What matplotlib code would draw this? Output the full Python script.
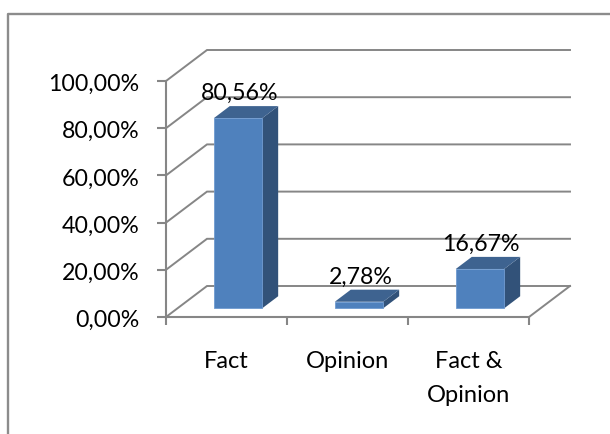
import matplotlib
matplotlib.use('Agg')
import matplotlib.pyplot as plt
from matplotlib.lines import Line2D
from matplotlib.transforms import ScaledTranslation

plt.rcParams['font.family'] = ['Lato', 'DejaVu Sans']

# data
categories = ['Fact', 'Opinion', 'Fact &\nOpinion']
values = [80.56, 2.78, 16.67]
value_labels = ['80,56%', '2,78%', '16,67%']
y_ticks = [0, 20, 40, 60, 80, 100]
y_tick_labels = ['0,00%', '20,00%', '40,00%', '60,00%', '80,00%', '100,00%']

W, H = 610, 434
LINE = '#868686'
FRONT = '#4f81bd'
TOP = '#3e6390'
SIDE = '#325279'

fig = plt.figure(figsize=(W / 100, H / 100), dpi=100)
fig.patch.set_facecolor('white')

# outer chart frame, cut off on the right and bottom
fig.add_artist(Line2D([8 / W, 8 / W, 1], [0, 1 - 13.5 / H, 1 - 13.5 / H],
                      transform=fig.transFigure, color='#8c8c8c', lw=1.7))

# plot box of the front plane
ax = fig.add_axes([166 / W, 1 - 317 / H, (529 - 166) / W, (317 - 81) / H])
ax.set_xlim(0, 3)
ax.set_ylim(0, 100)
ax.patch.set_visible(False)
for s in ['top', 'right']:
    ax.spines[s].set_visible(False)
for s in ['left', 'bottom']:
    ax.spines[s].set_color(LINE)
    ax.spines[s].set_linewidth(1.5)

# depth of the fake 3d box, in data units
depth_x = 41 / (363 / 3)
depth_y = 31 / (236 / 100)

# walls
for v in y_ticks:
    ax.plot([0, depth_x, 3 + depth_x], [v, v + depth_y, v + depth_y],
            color=LINE, lw=1.4, clip_on=False, zorder=1, solid_joinstyle='miter')
ax.plot([3, 3 + depth_x], [0, depth_y], color=LINE, lw=1.4, clip_on=False, zorder=1)

# bars
bar_w = 0.4
d0, d1 = 0.28, 0.67
for i, v in enumerate(values):
    x0 = i + 0.5 - bar_w / 2
    x1 = x0 + bar_w
    ox0, oy0 = d0 * depth_x, d0 * depth_y
    ox1, oy1 = d1 * depth_x, d1 * depth_y
    # side and top first, then the front
    ax.fill([x1 + ox0, x1 + ox1, x1 + ox1, x1 + ox0],
            [oy0, oy1, v + oy1, v + oy0], color=SIDE, lw=0, clip_on=False, zorder=3)
    ax.fill([x0 + ox0, x1 + ox0, x1 + ox1, x0 + ox1],
            [v + oy0, v + oy0, v + oy1, v + oy1], color=TOP, lw=0, clip_on=False, zorder=3)
    ax.fill([x0 + ox0, x1 + ox0, x1 + ox0, x0 + ox0],
            [oy0, oy0, v + oy0, v + oy0], facecolor=FRONT, edgecolor='#6f9ad0', lw=0.6,
            clip_on=False, zorder=4)
    ax.annotate(value_labels[i], (i + 0.5 + ox0, v + oy1),
                xytext=(1, 9.2), textcoords='offset points', ha='center', va='center',
                fontsize=16.7, color='black', zorder=5)

# ticks
ax.set_yticks(y_ticks)
ax.set_yticklabels(y_tick_labels, fontsize=16.7)
ax.set_xticks([0, 1, 2, 3])
ax.set_xticklabels([])
ax.set_xticks([0.5, 1.5, 2.5], minor=True)
ax.set_xticklabels(categories, minor=True, fontsize=17, linespacing=1.75)
ax.tick_params(axis='y', length=6.3, width=1.5, color=LINE, pad=12.7)
ax.tick_params(axis='x', which='major', length=6, width=1.5, color=LINE)
ax.tick_params(axis='x', which='minor', length=0, pad=24.5)

# y labels sit a little below their ticks
shift = ScaledTranslation(0, -1.5 / 100, fig.dpi_scale_trans)
for lab in ax.get_yticklabels():
    lab.set_transform(lab.get_transform() + shift)

fig.savefig('out.png', dpi=100)
